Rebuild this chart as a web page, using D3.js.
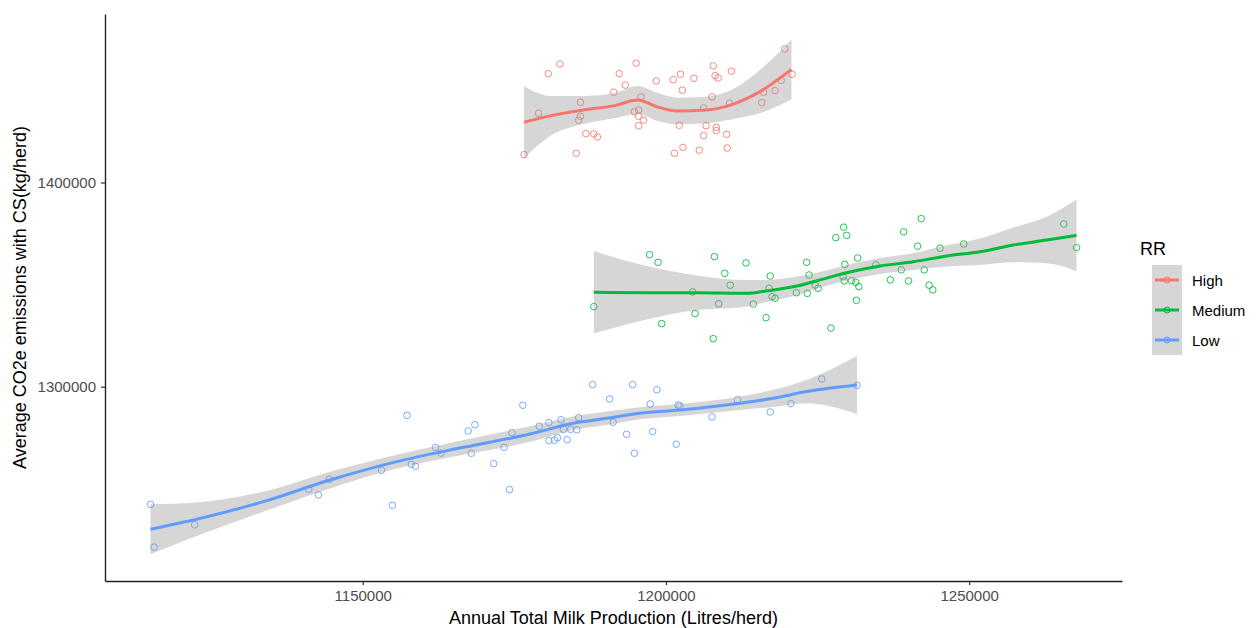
<!DOCTYPE html>
<html>
<head>
<meta charset="utf-8">
<script src="https://cdn.jsdelivr.net/npm/d3@7"></script>
<style>
  body { margin: 0; background: #fff; }
  svg { display: block; font-family: "Liberation Sans", Arial, sans-serif; }
</style>
</head>
<body>
<svg id="chart" width="1258" height="628"></svg>
<script>
// groups and colours
const groups = ["High", "Medium", "Low"];
const colors = ["#F8766D", "#00BA38", "#619CFF"];
const xTicks = [1150000, 1200000, 1250000];
const yTicks = [1300000, 1400000];

// raw points (milk production, CO2e)
const highX = [1176600, 1179000, 1180600, 1182500, 1185200, 1185900, 1185900, 1185600, 1186800, 1188100,
  1188700, 1191400, 1192300, 1193300, 1195100, 1195900, 1194800, 1195500, 1195500, 1196300,
  1195500, 1198400, 1201200, 1202400, 1202700, 1202200, 1201400, 1202800, 1204600, 1205500,
  1207800, 1208100, 1208600, 1207600, 1206200, 1206600, 1206200, 1208300, 1208300, 1210000,
  1210100, 1210800, 1210500, 1215800, 1216100, 1218000, 1219000, 1219600, 1220800];
const highY = [1413600, 1433900, 1453300, 1458000, 1414300, 1439300, 1432400, 1430500, 1423900, 1423800,
  1422300, 1444200, 1453300, 1447700, 1458400, 1441900, 1434700, 1435500, 1432400, 1430500,
  1427800, 1449700, 1450300, 1453000, 1445200, 1428000, 1414300, 1417200, 1451000, 1415800,
  1457100, 1452300, 1451200, 1441900, 1436500, 1427800, 1422900, 1427000, 1425400, 1423600,
  1416900, 1454500, 1438800, 1439100, 1444200, 1445000, 1450000, 1465400, 1453000];

const mediumX = [1188100, 1197300, 1198700, 1199300, 1204400, 1204800, 1207800, 1208000, 1208700, 1209700,
  1210600, 1213200, 1214400, 1216500, 1217200, 1217000, 1217500, 1218000, 1221500, 1223200,
  1223600, 1223300, 1224600, 1225100, 1227200, 1228000, 1229300, 1229800, 1229500, 1229200,
  1229400, 1230600, 1231300, 1231800, 1231600, 1231400, 1234600, 1237000, 1238800, 1239200,
  1240000, 1241500, 1242100, 1242600, 1243400, 1244000, 1245200, 1249100, 1265600, 1267700];
const mediumY = [1339200, 1364600, 1360900, 1330900, 1346400, 1335800, 1323500, 1363700, 1340600, 1355500,
  1349700, 1360600, 1340500, 1333800, 1354200, 1348200, 1344100, 1343300, 1346000, 1360900,
  1354700, 1345700, 1349700, 1348200, 1328700, 1373000, 1378100, 1374100, 1359900, 1353900,
  1351800, 1351900, 1351100, 1349000, 1363000, 1342300, 1359700, 1352300, 1357200, 1375800,
  1351800, 1368800, 1382300, 1357200, 1349700, 1347400, 1367800, 1369900, 1379700, 1368100];

const lowX = [1115000, 1115600, 1122300, 1141100, 1142700, 1144500, 1153100, 1154900, 1157300, 1158000,
  1158700, 1162000, 1162900, 1167400, 1168500, 1167900, 1171600, 1173300, 1174200, 1174600,
  1176400, 1179100, 1180700, 1180700, 1181600, 1182100, 1182700, 1183100, 1183700, 1184300,
  1185300, 1185600, 1187900, 1190700, 1191300, 1193500, 1194500, 1194800, 1197400, 1197800,
  1198500, 1201700, 1202000, 1202300, 1207600, 1211800, 1217200, 1220600, 1225700, 1231500];
const lowY = [1242400, 1221400, 1232400, 1249800, 1247000, 1254700, 1259100, 1241900, 1286000, 1262000,
  1261000, 1270300, 1267500, 1278300, 1281400, 1267400, 1262300, 1270300, 1249600, 1277500,
  1290900, 1280600, 1282400, 1273600, 1273800, 1275000, 1283800, 1279100, 1274000, 1279100,
  1278900, 1284800, 1301000, 1294000, 1282600, 1276700, 1301000, 1267400, 1291500, 1278000,
  1298500, 1271800, 1291000, 1290600, 1285200, 1293600, 1287600, 1291700, 1303800, 1300700];

// smoothed fits with confidence band
const highFitX = [1176600, 1180900, 1186400, 1191300, 1195400, 1198500, 1201800, 1206700, 1211100, 1215500, 1220700];
const highFit  = [1429500, 1432600, 1435500, 1437500, 1440400, 1437100, 1435000, 1435500, 1438400, 1444500, 1455400];
const highLo   = [1411900, 1422800, 1428600, 1431300, 1433500, 1430200, 1428500, 1429000, 1431100, 1433900, 1440700];
const highHi   = [1447100, 1442400, 1442400, 1443700, 1447300, 1444000, 1441500, 1442000, 1445800, 1455100, 1470100];

const mediumFitX = [1188100, 1196800, 1205100, 1213300, 1216600, 1221600, 1225400, 1229800, 1235300, 1240800, 1246300, 1251800, 1257300, 1262800, 1267700];
const mediumFit  = [1346200, 1346000, 1346000, 1345700, 1346900, 1349300, 1352300, 1355800, 1359100, 1361200, 1364000, 1366100, 1369400, 1371800, 1374100];
const mediumLo   = [1326000, 1332900, 1337500, 1339200, 1341500, 1344800, 1348400, 1352000, 1355200, 1357100, 1358800, 1359600, 1360900, 1360400, 1356500];
const mediumHi   = [1366400, 1359100, 1354500, 1352200, 1352300, 1353900, 1356200, 1359600, 1363000, 1365300, 1369200, 1372600, 1377900, 1383200, 1391700];

const lowFitX = [1115000, 1122600, 1133600, 1144600, 1155600, 1166600, 1177600, 1184700, 1190200, 1195700, 1202300, 1212200, 1217700, 1223200, 1231500];
const lowFit  = [1230200, 1235100, 1243700, 1254300, 1263300, 1270300, 1276800, 1282100, 1284500, 1287000, 1288600, 1291900, 1294300, 1297600, 1300800];
const lowLo   = [1218000, 1226900, 1238800, 1250200, 1259900, 1266700, 1273000, 1278800, 1281200, 1284100, 1285700, 1288600, 1290100, 1291900, 1286600];
const lowHi   = [1242400, 1243300, 1248600, 1258400, 1266700, 1273900, 1280600, 1285400, 1287800, 1289900, 1291500, 1295200, 1298500, 1303300, 1315000];

const svg = d3.select("#chart");
const plot = { left: 105, right: 1122, top: 14, bottom: 581 };

const x = d3.scaleLinear().domain([1107500, 1275200]).range([plot.left, plot.right]);
const y = d3.scaleLinear().domain([1204850, 1482500]).range([plot.bottom, plot.top]);

const series = [
  { pts: d3.zip(highX, highY), fit: d3.zip(highFitX, highFit, highLo, highHi) },
  { pts: d3.zip(mediumX, mediumY), fit: d3.zip(mediumFitX, mediumFit, mediumLo, mediumHi) },
  { pts: d3.zip(lowX, lowY), fit: d3.zip(lowFitX, lowFit, lowLo, lowHi) }
];

const curve = d3.curveMonotoneX;
const area = d3.area().x(d => x(d[0])).y0(d => y(d[2])).y1(d => y(d[3])).curve(curve);
const line = d3.line().x(d => x(d[0])).y(d => y(d[1])).curve(curve);

series.forEach((s, i) => {
  const g = svg.append("g");
  // open circle points
  g.selectAll("circle")
    .data(s.pts)
    .enter().append("circle")
    .attr("cx", d => x(d[0]))
    .attr("cy", d => y(d[1]))
    .attr("r", 3.3)
    .attr("fill", "none")
    .attr("stroke", colors[i])
    .attr("stroke-opacity", 0.85)
    .attr("stroke-width", 1);
  // confidence band
  g.append("path")
    .datum(s.fit)
    .attr("d", area)
    .attr("fill", "#999999")
    .attr("opacity", 0.4);
  // fitted line
  g.append("path")
    .datum(s.fit)
    .attr("d", line)
    .attr("fill", "none")
    .attr("stroke", colors[i])
    .attr("stroke-width", 3);
});

// axes
const xAxis = svg.append("g")
  .attr("transform", `translate(0,${plot.bottom})`)
  .call(d3.axisBottom(x).tickValues(xTicks).tickFormat(d3.format("d")).tickSize(4).tickSizeOuter(0).tickPadding(5));
const yAxis = svg.append("g")
  .attr("transform", `translate(${plot.left},0)`)
  .call(d3.axisLeft(y).tickValues(yTicks).tickFormat(d3.format("d")).tickSize(4).tickSizeOuter(0).tickPadding(5));

[xAxis, yAxis].forEach(a => {
  a.select(".domain").attr("stroke", "#222").attr("stroke-width", 1.4);
  a.selectAll(".tick line").attr("stroke", "#333").attr("stroke-width", 1.2);
  a.selectAll(".tick text")
    .attr("fill", "#4d4d4d")
    .style("font-size", "15px")
    .style("font-family", "Liberation Sans, Arial, sans-serif");
});

// axis titles
svg.append("text")
  .attr("x", (plot.left + plot.right) / 2)
  .attr("y", 624)
  .attr("text-anchor", "middle")
  .style("font-size", "18px")
  .attr("fill", "#000")
  .text("Annual Total Milk Production (Litres/herd)");

svg.append("text")
  .attr("transform", `translate(26,${(plot.top + plot.bottom) / 2}) rotate(-90)`)
  .attr("text-anchor", "middle")
  .style("font-size", "18px")
  .attr("fill", "#000")
  .text("Average CO2e emissions with CS(kg/herd)");

// legend
const legend = svg.append("g").attr("transform", "translate(1152,265)");
legend.append("text")
  .attr("x", -12)
  .attr("y", -10)
  .style("font-size", "18px")
  .attr("fill", "#000")
  .text("RR");

groups.forEach((name, i) => {
  const k = legend.append("g").attr("transform", `translate(0,${i * 30})`);
  k.append("rect")
    .attr("width", 30)
    .attr("height", 30)
    .attr("fill", "#999999")
    .attr("opacity", 0.4);
  k.append("line")
    .attr("x1", 3).attr("x2", 27)
    .attr("y1", 15).attr("y2", 15)
    .attr("stroke", colors[i])
    .attr("stroke-width", 3);
  k.append("circle")
    .attr("cx", 15).attr("cy", 15).attr("r", 3)
    .attr("fill", "none")
    .attr("stroke", colors[i])
    .attr("stroke-width", 1);
  k.append("text")
    .attr("x", 40)
    .attr("y", 20.5)
    .style("font-size", "15px")
    .attr("fill", "#000")
    .text(name);
});
</script>
</body>
</html>
